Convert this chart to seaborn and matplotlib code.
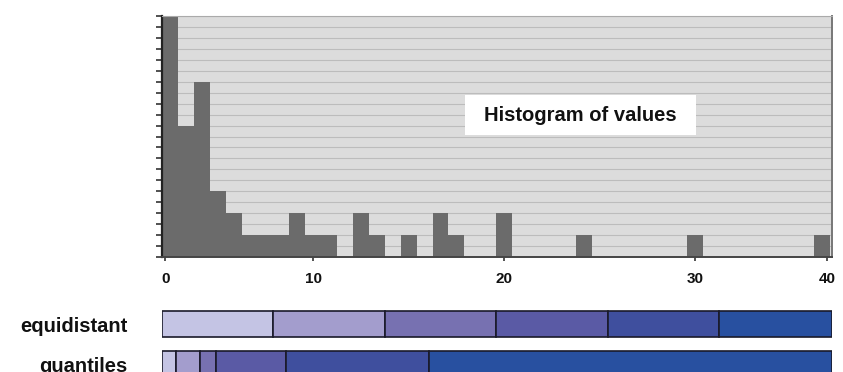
import numpy as np
import pandas as pd
import matplotlib
matplotlib.use("Agg")
import matplotlib.pyplot as plt
from matplotlib.patches import Rectangle
import seaborn as sns

# ---- data ----
bin_counts = [11, 6, 8, 3, 2, 1, 1, 1, 2, 1, 1, 0, 2, 1, 0, 1, 0, 2, 1, 0, 0,
              2, 0, 0, 0, 0, 1, 0, 0, 0, 0, 0, 0, 1, 0, 0, 0, 0, 0, 0, 0, 1]
tick_labels = ["0", "10", "20", "30", "40"]
tick_pos = [0.2, 9.5, 21.5, 33.5, 41.8]
equidistant_breaks = [0, 7, 14, 21, 28, 35, 42.1]
quantile_breaks = [0, 0.9, 2.4, 3.4, 7.8, 16.8, 42.1]
class_colors = ["#c4c4e4", "#a39dcd", "#7771b1", "#5a5aa5", "#3f4f9e", "#2850a0"]
row_labels = ["equidistant", "quantiles"]
title_text = "Histogram of values"

W, H = 843, 372
sns.set_theme(style="white")
plt.rcParams["font.family"] = ["Liberation Sans", "DejaVu Sans"]

fig = plt.figure(figsize=(W / 100, H / 100), dpi=100)

def px_axes(left, top, right, bottom):
    return fig.add_axes([left / W, 1 - bottom / H, (right - left) / W, (bottom - top) / H])

# ---- histogram ----
ax = px_axes(162, 16, 832, 257)
nb = len(bin_counts)
df = pd.DataFrame({"x": np.arange(nb) + 0.5, "w": np.array(bin_counts, dtype=float)})
sns.histplot(data=df, x="x", weights="w", bins=nb, binrange=(0, nb),
             color="#6b6b6b", alpha=1, edgecolor="none", linewidth=0, ax=ax)
ax.set_facecolor("#dcdcdc")
ax.set_xlim(0, 42.1)
ax.set_ylim(0, 11)
ax.set_yticks(np.arange(0, 11.01, 0.5))
ax.set_yticklabels([])
ax.set_axisbelow(True)
ax.yaxis.grid(True, color="#bcbcbc", linewidth=0.8)
ax.xaxis.grid(False)
ax.set_xticks(tick_pos)
ax.set_xticklabels(tick_labels, fontsize=11, fontweight="bold")
ax.set_xlabel("")
ax.set_ylabel("")
ax.tick_params(axis="y", left=True, length=4, width=1.2, color="#333333", direction="out")
ax.tick_params(axis="x", bottom=True, length=3, width=1.2, color="#333333", pad=8, labelcolor="#111111")
for side, col, lw in [("left", "#222222", 1.6), ("bottom", "#444444", 1.4),
                      ("right", "#777777", 1.4), ("top", "#aaaaaa", 0.8)]:
    ax.spines[side].set_visible(True)
    ax.spines[side].set_color(col)
    ax.spines[side].set_linewidth(lw)

ax.add_patch(Rectangle((0.452, 0.506), 0.345, 0.166, transform=ax.transAxes,
                       facecolor="white", edgecolor="none", zorder=3))
ax.text(0.624, 0.589, title_text, transform=ax.transAxes, ha="center", va="center",
        fontsize=14.5, fontweight="bold", color="#111111", zorder=4)

# ---- class bars ----
bx = px_axes(162, 300, 832, 372)
bx.set_xlim(0, 42.1)
bx.set_ylim(72, 0)
rows = [(24, equidistant_breaks), (64, quantile_breaks)]
for yc, brks in rows:
    lefts = brks[:-1]
    widths = np.diff(brks)
    bx.barh([yc] * len(lefts), widths, left=lefts, height=26, color=class_colors,
            edgecolor="#1a1a2a", linewidth=1.2)
bx.set_yticks([r[0] for r in rows])
bx.set_yticklabels(row_labels, fontsize=14.5, fontweight="bold", color="#111111")
bx.tick_params(axis="y", length=0, pad=25)
bx.set_xticks([])
for s in bx.spines.values():
    s.set_visible(False)
bx.set_facecolor("none")

fig.savefig("out.png", dpi=100)
